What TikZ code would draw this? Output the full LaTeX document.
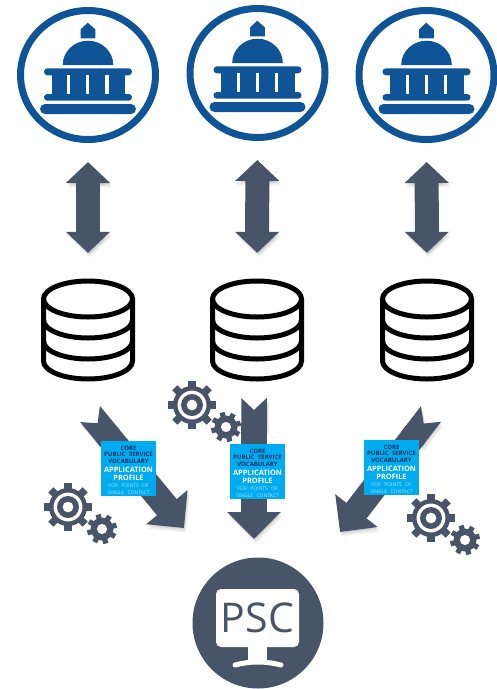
\documentclass[tikz,border=0pt]{standalone}
\usepackage{fontspec}
\setmainfont{Open Sans}
\usetikzlibrary{arrows.meta,shapes.geometric}
\definecolor{govblue}{RGB}{15,84,150}
\definecolor{slate}{RGB}{72,85,104}
\definecolor{profileblue}{RGB}{0,171,240}
\definecolor{profilenavy}{RGB}{8,50,100}
\definecolor{profilepale}{RGB}{170,225,250}
\tikzset{
  softshadow/.style={
    preaction={draw=black, opacity=.05, transform canvas={shift={(1pt,-1.5pt)}}},
    preaction={draw=black, opacity=.05, transform canvas={shift={(1.5pt,-3pt)}}},
    preaction={draw=black, opacity=.05, transform canvas={shift={(2pt,-4.5pt)}}}},
  govring/.style={ellipse, draw=govblue, line width=7pt, inner sep=0, minimum width=135pt, minimum height=129pt},
  dbstore/.style={inner sep=0, minimum width=94pt, minimum height=104pt},
  dbline/.style={draw=black, line width=5pt},
  swaparrow/.style={draw=slate, line width=24pt, {Triangle[width=43pt, length=21pt]}-{Triangle[width=43pt, length=21pt]}},
  flowarrow/.style={draw=slate, line width=25.5pt, {Triangle Cap[reversed, length=12pt]}-{Triangle[width=52pt, length=27pt]}},
  profile/.style={fill=profileblue, inner sep=0, minimum size=55pt, align=center, text width=55pt},
  pscdisc/.style={circle, fill=slate, inner sep=0, minimum size=131pt},
  screen/.style={fill=white, rounded corners=5pt, inner sep=0, minimum width=83pt, minimum height=58pt, text=slate, font=\fontsize{41}{41}\selectfont},
  building/.pic={
    \fill[govblue] (-7.3,-36.7) -- (-7.3,-45.7) -- (-.3,-52.3) -- (7.3,-45.7) -- (7.3,-36.7) -- cycle;
    \fill[govblue] (-25.3,-10) arc[start angle=180, end angle=360, x radius=25.3, y radius=24.3] -- cycle;
    \fill[govblue, rounded corners=3.4pt] (-44,-6.7) rectangle (44,.3);
    \fill[govblue] (-36.3,0) rectangle (37,19.5);
    \foreach \slit in {-21,-2,17.3} \fill[white] (\slit,.3) rectangle ++(3.4,18.7);
    \fill[govblue, rounded corners=3.3pt] (-44,19) rectangle (44,25.7);
    \fill[govblue, rounded corners=5pt] (-48,29) rectangle (48,39);
  },
  database/.pic={
    \draw[dbline] (0,-31) circle[x radius=44.5, y radius=18];
    \draw[dbline] (-44.5,-31) -- (-44.5,31) arc[start angle=180, end angle=0, x radius=44.5, y radius=18] -- (44.5,-31);
    \foreach \band in {-10,11}
      \draw[dbline] (-44.5,\band) arc[start angle=180, end angle=0, x radius=44.5, y radius=18];
  },
  biggear/.pic={
    \foreach \a in {0,45,...,315} \fill[slate, rotate=\a] (-3.6,-24.3) rectangle (3.6,-16);
    \fill[slate, even odd rule] circle[radius=19] circle[radius=14.5];
    \fill[slate, even odd rule] circle[radius=11] circle[radius=5.5];
  },
  smallgear/.pic={
    \foreach \a in {0,45,...,315} \fill[slate, rotate=\a+15] (-2.6,-15) rectangle (2.6,-9);
    \fill[slate, even odd rule] circle[radius=11.5] circle[radius=5.2];
  }
}
\newcommand{\profiletext}{%
  {\fontsize{6}{6.6}\selectfont\bfseries\color{profilenavy}\rule{0pt}{7.5pt}CORE\\PUBLIC SERVICE\\VOCABULARY\\[.6pt]}%
  {\fontsize{7.4}{8.4}\selectfont\bfseries\color{white}APPLICATION\\PROFILE\\[.4pt]}%
  {\fontsize{5}{6.4}\selectfont\color{profilepale}FOR POINTS OF\\SINGLE CONTACT\par}}

\begin{document}
\begin{tikzpicture}[x=1pt, y=-1pt]
  \useasboundingbox (0,0) rectangle (496,689);
  % Institutions
  \node[govring] (gov1) at (88,75) {};
  \node[govring] (gov2) at (257.5,73) {};
  \node[govring] (gov3) at (426.5,75) {};
  \pic at (gov1) {building};
  \pic at (gov2) {building};
  \pic at (gov3) {building};
  % Registers
  \node[dbstore] (db1) at (88,330) {};
  \node[dbstore] (db2) at (257,330) {};
  \node[dbstore] (db3) at (427,330) {};
  \pic at (db1) {database};
  \pic at (db2) {database};
  \pic at (db3) {database};
  % Exchange
  \draw[swaparrow, softshadow, shorten <=19pt, shorten >=25pt] (gov1) -- (db1);
  \draw[swaparrow, softshadow, shorten <=19pt, shorten >=25pt] (gov2) -- (db2);
  \draw[swaparrow, softshadow, shorten <=19pt, shorten >=25pt] (gov3) -- (db3);
  % Flows to the portal
  \node[pscdisc] (psc) at (258,623) {};
  \coordinate (flow1a) at (90,414);
  \coordinate (flow1b) at (184,528);
  \coordinate (flow2a) at (254,398);
  \coordinate (flow2b) at (254,539);
  \coordinate (flow3a) at (431,414);
  \coordinate (flow3b) at (340,532);
  \draw[flowarrow, softshadow] (flow1a) -- (flow1b);
  \draw[flowarrow, softshadow] (flow2a) -- (flow2b);
  \draw[flowarrow, softshadow] (flow3a) -- (flow3b);
  % Profile cards
  \node[profile] (card1) at (128.5,468.5) {\profiletext};
  \node[profile] (card2) at (257.5,471.5) {\profiletext};
  \node[profile] (card3) at (391.5,467.5) {\profiletext};
  % Gears
  \pic at (68,507) {biggear};
  \pic at (102,529) {smallgear};
  \pic at (192,405) {biggear};
  \pic at (226,427) {smallgear};
  \pic at (431,518) {biggear};
  \pic at (465,540) {smallgear};
  % Portal
  \node[screen] (monitor) at (257.5,618) {\raisebox{-2pt}{PSC}\hspace{5pt}};
  \fill[white] (248,647) rectangle (267,660);
  \draw[white, line width=5pt, line cap=round] (235,665) .. controls (250,661) and (265,661) .. (281,665);
\end{tikzpicture}
\end{document}
